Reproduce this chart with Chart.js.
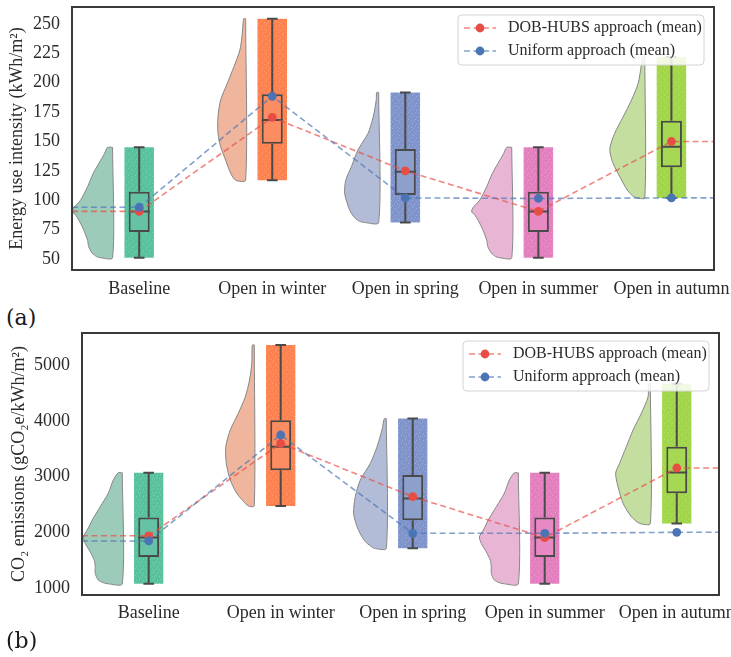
<!DOCTYPE html>
<html>
<head>
<meta charset="utf-8">
<title>Raincloud plots of energy use intensity and CO2 emissions</title>
<script src="https://cdn.jsdelivr.net/npm/chart.js@4.4.1/dist/chart.umd.min.js"></script>
<style>
  html, body { margin: 0; padding: 0; background: #fff; }
  body { position: relative; width: 731px; height: 657px; overflow: hidden; }
  canvas { position: absolute; left: 0; }
  .tag { position: absolute; left: 6px; font-family: 'DejaVu Serif', serif; font-size: 22px; line-height: 26px; color: #1a1a1a; }
</style>
</head>
<body>
<canvas id="euiChart" width="760" height="305" style="top:0"></canvas>
<div class="tag" style="top:305px">(a)</div>
<canvas id="co2Chart" width="760" height="300" style="top:330px"></canvas>
<div class="tag" style="top:628px">(b)</div>
<script>
// ---- categories and legend labels ----
const categories = ['Baseline', 'Open in winter', 'Open in spring', 'Open in summer', 'Open in autumn'];
const seriesLabels = ['DOB-HUBS approach (mean)', 'Uniform approach (mean)'];

// ---- (a) energy use intensity, kWh/m² ----
const euiTicks = [50, 75, 100, 125, 150, 175, 200, 225, 250];
const euiMin = [51, 117, 81, 51, 102];
const euiQ1 = [73, 148, 104.5, 73, 128];
const euiMedian = [90.3, 168.3, 124.3, 90.3, 145.6];
const euiQ3 = [107.3, 190.2, 143.6, 107.3, 167.7];
const euiMax = [145, 254.5, 191.7, 145, 222];
const euiDobMean = [90.5, 170.5, 125, 90.5, 150];
const euiUniformMean = [94, 188.5, 102, 101.5, 102];
// half-violin outlines: value levels and kernel density (in category widths)
const euiViolinLevels = [
  [145, 140, 134, 123, 111.6, 100, 93.4, 90, 87.6, 77.5, 66, 60.5, 55, 52, 51],
  [254.5, 242, 228, 213.7, 199.5, 185.3, 171, 157, 145.6, 134, 123, 117],
  [191.7, 185, 171, 157, 142.8, 128.6, 117, 106, 96, 90, 85, 82, 81],
  [145, 140, 134, 123, 111.6, 100, 93.4, 90, 87.6, 77.5, 66, 60.5, 55, 52, 51],
  [222, 215, 199.5, 185.3, 171, 157, 144, 133, 120, 108, 103, 102]
];
const euiViolinDensity = [
  [0.038, 0.060, 0.090, 0.145, 0.188, 0.241, 0.293, 0.301, 0.278, 0.228, 0.188, 0.180, 0.153, 0.120, 0.090],
  [0.015, 0.025, 0.043, 0.088, 0.138, 0.188, 0.208, 0.208, 0.188, 0.150, 0.113, 0.075],
  [0.015, 0.019, 0.041, 0.080, 0.156, 0.205, 0.248, 0.256, 0.233, 0.211, 0.180, 0.143, 0.105],
  [0.038, 0.060, 0.090, 0.145, 0.188, 0.241, 0.293, 0.301, 0.278, 0.228, 0.188, 0.180, 0.153, 0.120, 0.090],
  [0.015, 0.026, 0.050, 0.100, 0.163, 0.226, 0.263, 0.244, 0.188, 0.128, 0.083, 0.060]
];

// ---- (b) CO2 emissions, gCO2e/kWh/m² ----
const co2Ticks = [1000, 2000, 3000, 4000, 5000];
const co2Min = [1080, 2475, 1716, 1080, 2162];
const co2Q1 = [1560, 3116, 2218, 1560, 2702];
const co2Median = [1910, 3537, 2610, 1910, 3075];
const co2Q3 = [2268, 4008, 3030, 2268, 3534];
const co2Max = [3070, 5358, 4040, 3068, 4663];
const co2DobMean = [1940, 3594, 2641, 1907, 3155];
const co2UniformMean = [1848, 3746, 1985, 1985, 2003];
const co2ViolinLevels = [
  [3070, 2940, 2702, 2462, 2224, 2045, 1920, 1800, 1650, 1500, 1388, 1269, 1149, 1100, 1080],
  [5358, 5030, 4731, 4432, 4135, 3836, 3537, 3239, 2940, 2702, 2560, 2475],
  [4040, 3836, 3537, 3239, 2940, 2641, 2344, 2105, 1955, 1835, 1760, 1716],
  [3068, 2940, 2702, 2462, 2224, 2045, 1920, 1800, 1650, 1500, 1388, 1269, 1149, 1100, 1080],
  [4663, 4432, 4135, 3836, 3537, 3239, 3060, 2821, 2523, 2283, 2162]
];
const co2ViolinDensity = [
  [0.030, 0.068, 0.106, 0.167, 0.227, 0.265, 0.295, 0.280, 0.242, 0.212, 0.205, 0.205, 0.182, 0.144, 0.106],
  [0.015, 0.019, 0.036, 0.068, 0.121, 0.182, 0.216, 0.212, 0.182, 0.133, 0.083, 0.045],
  [0.015, 0.033, 0.070, 0.121, 0.197, 0.235, 0.248, 0.222, 0.192, 0.159, 0.121, 0.091],
  [0.030, 0.068, 0.106, 0.167, 0.227, 0.265, 0.295, 0.280, 0.242, 0.212, 0.205, 0.205, 0.182, 0.144, 0.106],
  [0.015, 0.017, 0.068, 0.131, 0.182, 0.233, 0.263, 0.245, 0.207, 0.144, 0.081]
];

// ---- styling ----
const SERIF = "'Liberation Serif', 'Times New Roman', serif";
const TEXT = '#2b2b2b';
const INK = '#4a4a4a';
const cloudColors = ['#58c29d', '#fd8250', '#8094cc', '#e47fbf', '#a0d648'];
const boxColors = ['#66c2a5', '#fc8d62', '#8da0cb', '#e78ac3', '#a6d854'];
const violinColors = ['#9ccbb9', '#f0b59d', '#b3bcd7', '#e8b6d4', '#c4dea0'];
const RED = '#e84d45', BLUE = '#4a74b4';
const RED_LINE = 'rgba(232,77,69,0.68)', BLUE_LINE = 'rgba(74,116,180,0.68)';

// horizontal layout of one raincloud, in category units
const X_MIN = -0.505, X_MAX = 4.32;
const VIOLIN_EDGE = -0.2;
const CLOUD_SPAN = 0.222, BOX_SPAN = 0.158, CAP_HALF = 0.04;

// dense jittered-dot texture used for the strip clouds
function cloudFill(color) {
  const tile = document.createElement('canvas');
  tile.width = tile.height = 7;
  const g = tile.getContext('2d');
  g.fillStyle = color;
  g.fillRect(0, 0, 7, 7);
  g.fillStyle = 'rgba(255,255,255,0.22)';
  [[0, 2], [3, 5], [5, 1], [2, 0], [6, 4]].forEach(([x, y]) => g.fillRect(x, y, 1, 1));
  return g.createPattern(tile, 'repeat');
}

function meanSeries(label, values, marker, line, rank) {
  const pts = [{ x: X_MIN, y: values[0] }]
    .concat(values.map((v, i) => ({ x: i, y: v })))
    .concat([{ x: X_MAX, y: values[values.length - 1] }]);
  return {
    type: 'line', label, data: pts, order: 1 - rank,
    borderColor: line, borderWidth: 1.6, borderDash: [6, 3.5],
    pointRadius: pts.map((_, k) => (k === 0 || k === pts.length - 1) ? 0 : 4.4),
    pointBackgroundColor: marker, pointBorderWidth: 0,
    fill: false, tension: 0,
    legendMarker: marker, legendRank: rank
  };
}

function boxLines(lo, q1, med, q3, hi) {
  const pts = [];
  categories.forEach((_, i) => {
    const gap = { x: i, y: null };
    pts.push(
      { x: i, y: lo[i] }, { x: i, y: q1[i] }, gap,
      { x: i, y: q3[i] }, { x: i, y: hi[i] }, gap,
      { x: i - CAP_HALF, y: lo[i] }, { x: i + CAP_HALF, y: lo[i] }, gap,
      { x: i - CAP_HALF, y: hi[i] }, { x: i + CAP_HALF, y: hi[i] }, gap,
      { x: i - BOX_SPAN / 2, y: med[i] }, { x: i + BOX_SPAN / 2, y: med[i] }, gap
    );
  });
  return {
    type: 'line', data: pts, order: 3, borderColor: INK, borderWidth: 2,
    pointRadius: 0, spanGaps: false, fill: false, tension: 0
  };
}

function violins(levels, density) {
  return levels.map((lv, i) => {
    const edge = i + VIOLIN_EDGE;
    const pts = [{ x: edge, y: lv[0] }]
      .concat(lv.map((v, k) => ({ x: edge - density[i][k], y: v })))
      .concat([{ x: edge, y: lv[lv.length - 1] }, { x: edge, y: lv[0] }]);
    return {
      type: 'line', data: pts, order: 10 + i, fill: 'shape',
      backgroundColor: violinColors[i], borderColor: '#868686', borderWidth: 1,
      pointRadius: 0, tension: 0.25
    };
  });
}

const framePlugin = {
  id: 'frame',
  afterDatasetsDraw(chart) {
    const { ctx, chartArea: a } = chart;
    ctx.save();
    ctx.strokeStyle = '#3a3a3a';
    ctx.lineWidth = 2;
    ctx.strokeRect(a.left, a.top, a.right - a.left, a.bottom - a.top);
    ctx.restore();
  }
};

const legendPlugin = {
  id: 'meanLegend',
  afterDraw(chart) {
    const items = chart.data.datasets.filter(d => d.legendMarker)
      .sort((p, q) => p.legendRank - q.legendRank);
    const { ctx, chartArea: a } = chart;
    const w = 246, h = 50;
    const x0 = a.right - 10 - w, y0 = a.top + 8;
    ctx.save();
    ctx.beginPath();
    ctx.roundRect(x0, y0, w, h, 4);
    ctx.fillStyle = 'rgba(255,255,255,0.85)';
    ctx.fill();
    ctx.strokeStyle = '#d4d4d4';
    ctx.lineWidth = 1;
    ctx.stroke();
    items.forEach((d, k) => {
      const cy = y0 + 13 + k * 23;
      ctx.setLineDash(d.borderDash);
      ctx.strokeStyle = d.borderColor;
      ctx.lineWidth = d.borderWidth;
      ctx.beginPath();
      ctx.moveTo(x0 + 6, cy);
      ctx.lineTo(x0 + 38, cy);
      ctx.stroke();
      ctx.setLineDash([]);
      ctx.fillStyle = d.legendMarker;
      ctx.beginPath();
      ctx.arc(x0 + 22, cy, 4.4, 0, Math.PI * 2);
      ctx.fill();
      ctx.fillStyle = TEXT;
      ctx.font = "16px " + SERIF;
      ctx.textBaseline = 'middle';
      ctx.fillText(d.label, x0 + 50, cy);
    });
    ctx.restore();
  }
};

function raincloud(id, p) {
  const datasets = [
    meanSeries(seriesLabels[1], p.uniform, BLUE, BLUE_LINE, 1),
    meanSeries(seriesLabels[0], p.dob, RED, RED_LINE, 0),
    boxLines(p.lo, p.q1, p.med, p.q3, p.hi),
    {
      type: 'bar', order: 4, grouped: false, categoryPercentage: 1, barPercentage: BOX_SPAN,
      data: categories.map((_, i) => ({ x: i, y: [p.q1[i], p.q3[i]] })),
      backgroundColor: boxColors, borderColor: INK, borderWidth: 2, borderSkipped: false
    },
    {
      type: 'bar', order: 5, grouped: false, categoryPercentage: 1, barPercentage: CLOUD_SPAN,
      data: categories.map((_, i) => ({ x: i, y: [p.lo[i], p.hi[i]] })),
      backgroundColor: cloudColors.map(cloudFill), borderWidth: 0
    }
  ].concat(violins(p.levels, p.density));

  return new Chart(document.getElementById(id), {
    type: 'scatter',
    data: { datasets },
    plugins: [framePlugin, legendPlugin],
    options: {
      responsive: false,
      animation: false,
      events: [],
      layout: { padding: p.padding },
      plugins: { legend: { display: false }, tooltip: { enabled: false } },
      scales: {
        x: {
          type: 'linear', min: X_MIN, max: X_MAX, offset: false,
          grid: { display: false, drawTicks: false, offset: false },
          border: { display: false },
          afterBuildTicks: s => { s.ticks = categories.map((_, i) => ({ value: i })); },
          afterFit: s => { s.height = 35; s.paddingLeft = 0; s.paddingRight = 0; },
          ticks: {
            autoSkip: false, maxRotation: 0, minRotation: 0, padding: p.xPad,
            color: TEXT, font: { family: SERIF, size: 18 },
            callback: v => categories[Math.round(v)]
          }
        },
        y: {
          type: 'linear', min: p.yMin, max: p.yMax, beginAtZero: false,
          grid: { display: false, drawTicks: false },
          border: { display: false },
          afterBuildTicks: s => { s.ticks = p.ticks.map(v => ({ value: v })); },
          afterFit: s => { s.width = p.yWidth; s.paddingTop = 0; s.paddingBottom = 0; },
          ticks: { padding: 12, color: TEXT, font: { family: SERIF, size: 18 }, callback: v => String(v) },
          title: {
            display: true, text: p.title, color: TEXT,
            font: { family: SERIF, size: 18 }, padding: { top: p.titlePad, bottom: 0 }
          }
        }
      }
    }
  });
}

raincloud('euiChart', {
  lo: euiMin, q1: euiQ1, med: euiMedian, q3: euiQ3, hi: euiMax,
  dob: euiDobMean, uniform: euiUniformMean,
  levels: euiViolinLevels, density: euiViolinDensity,
  ticks: euiTicks, yMin: 40.6, yMax: 264.5,
  title: 'Energy use intensity (kWh/m²)', titlePad: 6,
  yWidth: 72, xPad: 8,
  padding: { top: 7, right: 46, bottom: 0, left: 0 }
});

raincloud('co2Chart', {
  lo: co2Min, q1: co2Q1, med: co2Median, q3: co2Q3, hi: co2Max,
  dob: co2DobMean, uniform: co2UniformMean,
  levels: co2ViolinLevels, density: co2ViolinDensity,
  ticks: co2Ticks, yMin: 880, yMax: 5573,
  title: 'CO₂ emissions (gCO₂e/kWh/m²)', titlePad: 8,
  yWidth: 82, xPad: 7,
  padding: { top: 3, right: 41, bottom: 0, left: 0 }
});
</script>
</body>
</html>
